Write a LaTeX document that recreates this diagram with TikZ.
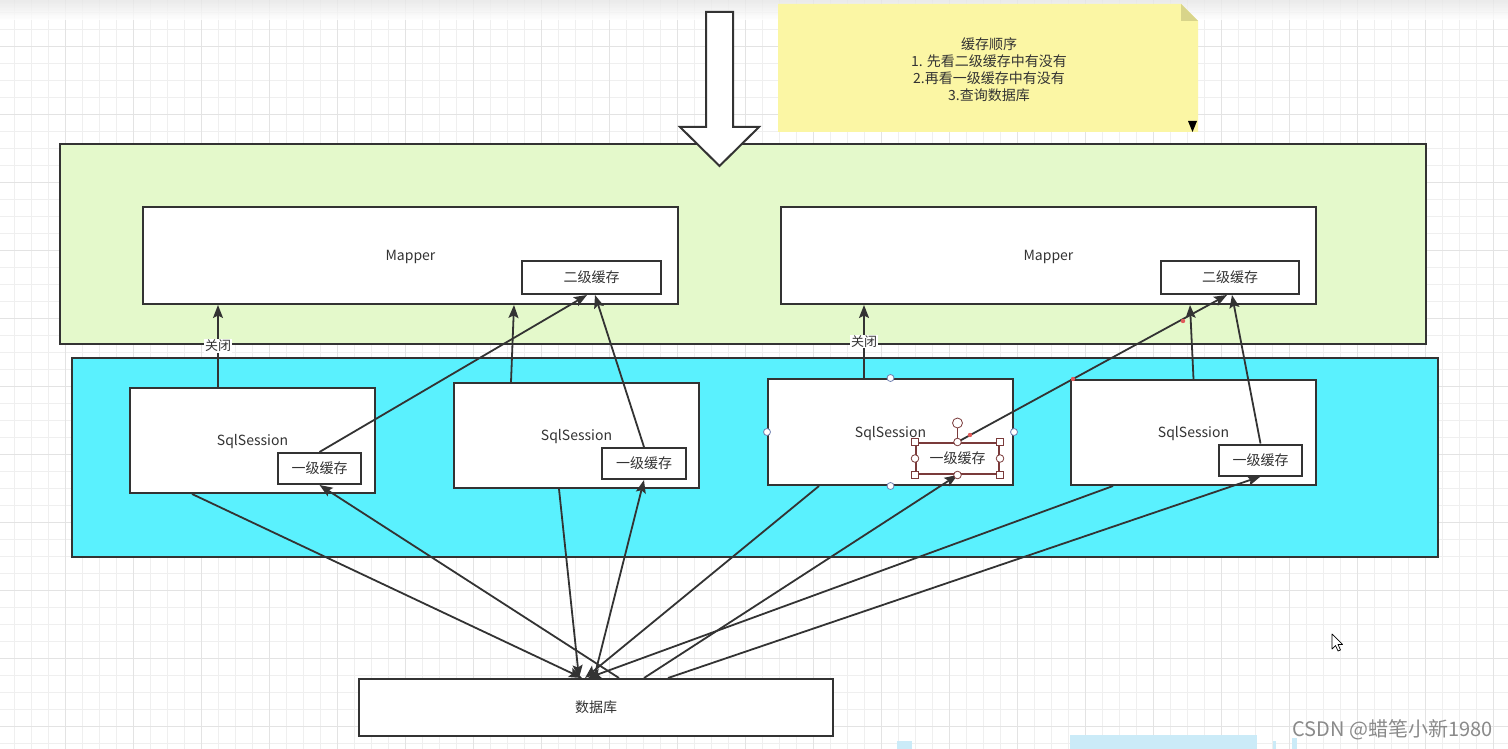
\documentclass[tikz,border=0pt]{standalone}
\usepackage{fontspec}
\setmainfont{Noto Sans CJK SC}
\usetikzlibrary{arrows.meta,calc}
\definecolor{ink}{HTML}{333333}
\definecolor{gridminor}{HTML}{EFEFEF}
\definecolor{gridmajor}{HTML}{E3E3E3}
\definecolor{greenbg}{RGB}{228,249,203}
\definecolor{cyanbg}{RGB}{90,241,254}
\definecolor{notebg}{RGB}{251,246,164}
\definecolor{notefold}{RGB}{216,212,138}
\definecolor{selred}{HTML}{7A3A3A}
\definecolor{selblue}{HTML}{7080B0}
\definecolor{dotred}{HTML}{E05A5A}
\definecolor{wmgray}{HTML}{8A8A8A}
\definecolor{blob}{HTML}{CBEBF8}
\begin{document}
\begin{tikzpicture}[x=1pt,y=-1pt,
  box/.style={draw=ink, line width=2pt, fill=white, inner sep=0pt, font=\fontsize{14}{16}\selectfont, text=ink, text height=10.5pt, text depth=0pt},
  container/.style={draw=ink, line width=2pt},
  conn/.style={draw=ink, line width=1.8pt, -{Stealth[length=13pt,width=10pt,inset=2.5pt]}},
  lbl/.style={fill=white, inner sep=1pt, font=\fontsize{13}{15}\selectfont, text=ink},
  handle/.style={draw=selblue, fill=white, line width=0.8pt},
  shandle/.style={draw=selred, fill=white, line width=0.8pt},
]
\useasboundingbox (0,0) rectangle (1508,749);
\fill[white] (0,0) rectangle (1508,749);
% grid
\foreach \x in {14,31,...,1508} \draw[gridminor, line width=1pt] (\x,0) -- (\x,749);
\foreach \y in {12.3,29.3,...,749} \draw[gridminor, line width=1pt] (0,\y) -- (1508,\y);
\foreach \x in {65,133,...,1508} \draw[gridmajor, line width=1pt] (\x,0) -- (\x,749);
\foreach \y in {46.3,114.3,...,749} \draw[gridmajor, line width=1pt] (0,\y) -- (1508,\y);
\shade[top color=black!10, bottom color=white, opacity=0.8] (0,0) rectangle (1508,20);
% bottom blobs
\fill[blob] (1070,735) rectangle (1257,749);
\fill[blob] (897,741) rectangle (912,749);
\fill[blob] (1273,741) rectangle (1276,749);
\fill[blob] (1292,738) rectangle (1297,749);

% containers
\draw[container, fill=greenbg] (60,144) rectangle (1426,344);
\draw[container, fill=cyanbg] (72,358) rectangle (1438,557);

% top block arrow
\draw[ink, fill=white, line width=2pt, line join=miter] (706,12) -- (733,12) -- (733,127) -- (759,127) -- (719.5,166) -- (680,127) -- (706,127) -- cycle;

% note
\fill[notebg] (778,4) -- (1181,4) -- (1198,21) -- (1198,132) -- (778,132) -- cycle;
\fill[notefold] (1181,4) -- (1198,21) -- (1181,21) -- cycle;
\fill[black] (1188,121) -- (1197,121) -- (1192.5,132) -- cycle;
\node[align=center, text=ink, font=\fontsize{14}{17}\selectfont] (note) at (989,70)
  {缓存顺序\\1. 先看二级缓存中有没有\\2.再看一级缓存中有没有\\3.查询数据库};

% mappers
\node[box, minimum width=535pt, minimum height=97pt] (m1) at (410.5,255.5) {Mapper};
\node[box, minimum width=139pt, minimum height=33pt] (m1c) at (591.5,277.5) {二级缓存};
\node[box, minimum width=535pt, minimum height=97pt] (m2) at (1048.5,255.5) {Mapper};
\node[box, minimum width=138pt, minimum height=33pt] (m2c) at (1230,277.5) {二级缓存};

% sessions
\node[box, minimum width=245pt, minimum height=105pt] (s1) at (252.5,440.5) {SqlSession};
\node[box, minimum width=83pt, minimum height=31pt] (c1) at (319.5,468.5) {一级缓存};
\node[box, minimum width=245pt, minimum height=105pt] (s2) at (576.5,435.5) {SqlSession};
\node[box, minimum width=84pt, minimum height=31pt] (c2) at (644,463.5) {一级缓存};
\node[box, minimum width=245pt, minimum height=106pt] (s3) at (890.5,432) {SqlSession};
\node[box, draw=selred, minimum width=83pt, minimum height=31pt] (c3) at (957.5,458.5) {一级缓存};
\node[box, minimum width=245pt, minimum height=105pt] (s4) at (1193.5,432.5) {SqlSession};
\node[box, minimum width=83pt, minimum height=31pt] (c4) at (1260.5,460) {一级缓存};

% database
\node[box, minimum width=474pt, minimum height=57pt] (db) at (596,707.5) {数据库};

% close arrows
\coordinate (a1) at ([xshift=89pt]s1.north west);
\draw[conn] (a1) -- node[lbl]{关闭} (a1 |- m1.south);
\coordinate (a2) at ([xshift=97pt]s3.north west);
\draw[conn] (a2) -- node[lbl]{关闭} (a2 |- m2.south);

% to second-level cache / mapper
\draw[conn] (c1.north) -- ([xshift=66pt]m1c.south west);
\draw[conn] ([xshift=58pt]s2.north west) -- ([xshift=372pt]m1.south west);
\draw[conn] (c2.north) -- ([xshift=74pt]m1c.south west);
\draw[conn] (c3.north) -- ([xshift=67pt]m2c.south west);
\draw[conn] (s4.north) -- ([xshift=410pt]m2.south west);
\draw[conn] (c4.north) -- ([xshift=72pt]m2c.south west);

% database arrows
\draw[conn] ([xshift=63pt]s1.south west) -- ([xshift=224pt]db.north west);
\draw[conn] ([xshift=261pt]db.north west) -- (c1.south);
\draw[conn] ([xshift=106pt]s2.south west) -- ([xshift=221pt]db.north west);
\draw[conn] ([xshift=236pt]db.north west) -- (c2.south);
\draw[conn] ([xshift=52pt]s3.south west) -- ([xshift=227pt]db.north west);
\draw[conn] ([xshift=286pt]db.north west) -- (c3.south);
\draw[conn] ([xshift=43pt]s4.south west) -- ([xshift=230pt]db.north west);
\draw[conn] ([xshift=310pt]db.north west) -- (c4.south);

% selection handles on s3
\foreach \a in {north,south,west,east} \draw[handle] (s3.\a) circle (3.5pt);
% selection handles on c3
\draw[selred, line width=0.8pt] (c3.north) -- (957.5,423);
\draw[shandle] (957.5,423) circle (5pt);
\foreach \a in {north west,north east,south west,south east}
  \draw[shandle] ($(c3.\a)+(-3.5,-3.5)$) rectangle ($(c3.\a)+(3.5,3.5)$);
\foreach \a in {north,south,west,east} \draw[shandle] (c3.\a) circle (3.8pt);
% red dots
\foreach \p in {(970,435),(1183,321),(1073,379)} \fill[dotred] \p circle (2.2pt);

% cursor
\draw[black, fill=white, line width=0.7pt, line join=round, shift={(1332,634)}]
  (0,0) -- (0,15) -- (3.5,11.5) -- (6,17) -- (8.5,16) -- (6,10.5) -- (10.5,10.5) -- cycle;

% watermark
\node[anchor=east, text=wmgray, font=\fontsize{20}{22}\selectfont, inner sep=0pt] (wm) at (1493,730) {CSDN @蜡笔小新1980};
\end{tikzpicture}
\end{document}
